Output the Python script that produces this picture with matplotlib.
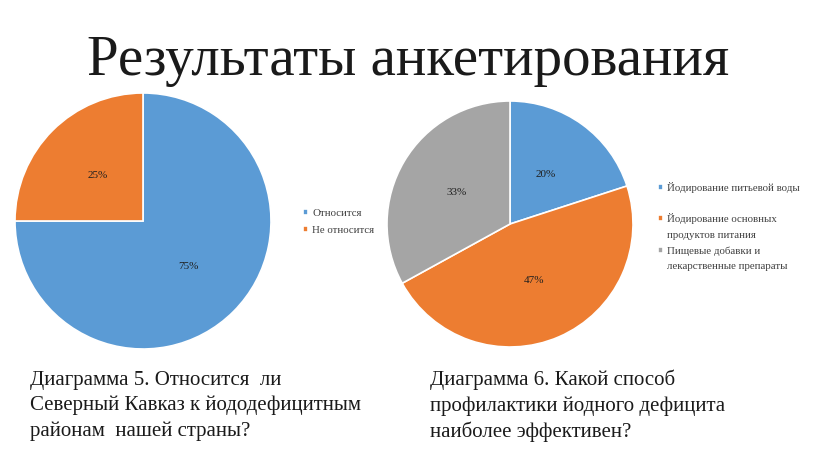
import matplotlib
matplotlib.use("Agg")
import matplotlib.pyplot as plt
from matplotlib.patches import Patch

plt.rcParams['font.family'] = ['Liberation Serif', 'DejaVu Serif']

W, H = 816, 457

title = "Результаты анкетирования"

labels1 = ["Относится", "Не относится"]
values1 = [75, 25]

labels2 = ["Йодирование питьевой воды", "Йодирование основных\nпродуктов питания",
           "Пищевые добавки и\nлекарственные препараты"]
values2 = [20, 47, 33]

colors1 = ["#5B9BD5", "#ED7D31"]
colors2 = ["#5B9BD5", "#ED7D31", "#A5A5A5"]

caption1 = "Диаграмма 5. Относится  ли\nСеверный Кавказ к йододефицитным\nрайонам  нашей страны?"
caption2 = "Диаграмма 6. Какой способ\nпрофилактики йодного дефицита\nнаиболее эффективен?"

fig = plt.figure(figsize=(W / 100, H / 100), dpi=100)
fig.patch.set_facecolor("white")


def px_axes(cx, cy, r):
    return fig.add_axes([(cx - r) / W, (H - cy - r) / H, 2 * r / W, 2 * r / H])


wp = dict(edgecolor="white", linewidth=1.2)
tp = dict(fontsize=8, color="#1f1f1f")

ax1 = px_axes(143, 221, 128)
w1, _, at1 = ax1.pie(values1, colors=colors1, startangle=90, counterclock=False,
                     autopct="%d%%", pctdistance=0.5, radius=1,
                     wedgeprops=wp, textprops=tp)
ax1.set_xlim(-1, 1); ax1.set_ylim(-1, 1); ax1.set_aspect("equal"); ax1.axis("off")

ax2 = px_axes(510, 224, 123)
w2, _, at2 = ax2.pie(values2, colors=colors2, startangle=90, counterclock=False,
                     autopct="%d%%", pctdistance=0.5, radius=1,
                     wedgeprops=wp, textprops=tp)
ax2.set_xlim(-1, 1); ax2.set_ylim(-1, 1); ax2.set_aspect("equal"); ax2.axis("off")

legkw = dict(frameon=False, fontsize=7.8, handlelength=0.45, handleheight=0.45,
             handletextpad=0.4, labelcolor="#404040", borderpad=0, borderaxespad=0)

fig.legend(w1, labels1, loc="upper left", bbox_to_anchor=(303 / W, 1 - 209 / H),
           labelspacing=0.7, **legkw)

fig.legend(w2[:1], labels2[:1], loc="upper left", bbox_to_anchor=(658 / W, 1 - 182 / H),
           **legkw)

# multi-line entries: one legend row per text line, marker only on the first line
rows_h, rows_l = [], []
for wedge, lab in zip(w2[1:], labels2[1:]):
    lines = lab.split("\n")
    rows_h.append(wedge)
    rows_l.append(lines[0])
    for extra in lines[1:]:
        rows_h.append(Patch(facecolor="none", edgecolor="none"))
        rows_l.append(extra)
fig.legend(rows_h, rows_l, loc="upper left", bbox_to_anchor=(658 / W, 1 - 213 / H),
           labelspacing=0.6, **legkw)

fig.text(408 / W, 1 - 61 / H, title, ha="center", va="center", fontsize=41, color="#1a1a1a")

fig.text(30 / W, 1 - 371 / H, caption1, ha="left", va="top", fontsize=15,
         linespacing=1.4, color="#1a1a1a")
fig.text(430 / W, 1 - 370 / H, caption2, ha="left", va="top", fontsize=15,
         linespacing=1.4, color="#1a1a1a")

fig.savefig("out.png", dpi=100, facecolor="white")
